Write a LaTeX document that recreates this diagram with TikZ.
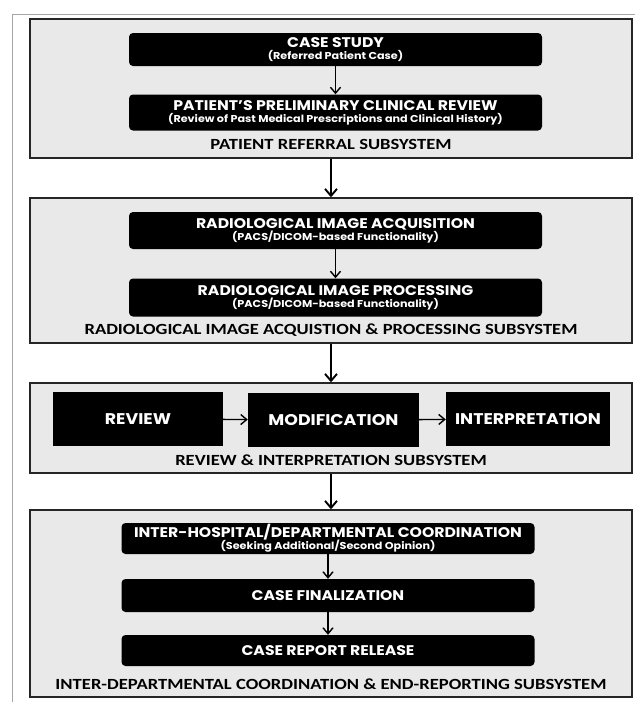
\documentclass[tikz,border=0pt]{standalone}
\usepackage{fontspec}
\setmainfont{Poppins}[FakeStretch=1.12]
\newfontfamily\capfont{Carlito}[FakeStretch=1.2]
\usetikzlibrary{arrows.meta,positioning}

\tikzset{
  subsys/.style={draw=black!85,line width=1.4pt,fill=gray!17,minimum width=602pt,inner sep=0pt},
  stage/.style={fill=black,text=white,rounded corners=4pt,align=center,inner sep=1pt,
    font=\bfseries\fontsize{14}{15}\selectfont},
  bigstage/.style={stage,rounded corners=0pt,minimum height=54pt,font=\bfseries\fontsize{15.5}{16}\selectfont},
  sublabel/.style={font=\capfont\bfseries\fontsize{15.5}{16}\selectfont},
  flow/.style={-{Straight Barb[length=6pt,width=10pt]},line width=1.4pt},
  bigflow/.style={-{Straight Barb[length=7pt,width=12pt]},line width=1.9pt},
}
\newcommand{\stagenote}[1]{\\[-3pt]{\fontsize{10}{10}\selectfont #1}}

\begin{document}
\begin{tikzpicture}[x=1pt,y=-1pt]
	\useasboundingbox (0,0) rectangle (635,702);
	\draw[gray!70,line width=0.6pt] (635,14) -- (12,14) -- (12,702);

	% subsystem frames
	\node[subsys,minimum height=139pt] (sub1) at (331,88.5) {};
	\node[subsys,minimum height=145pt] (sub2) at (331,270.5) {};
	\node[subsys,minimum height=90pt] (sub3) at (331,428) {};
	\node[subsys,minimum height=187pt] (sub4) at (331,603.5) {};

	% patient referral
	\node[stage,minimum width=413pt,minimum height=33pt] (case) at (335.5,49.5) {CASE STUDY\stagenote{(Referred Patient Case)}};
	\node[stage,minimum width=413pt,minimum height=36pt] (prelim) at (335.5,112.5) {PATIENT'S PRELIMINARY CLINICAL REVIEW\stagenote{(Review of Past Medical Prescriptions and Clinical History)}};
	\node[sublabel] (lab1) at (331,144) {PATIENT REFERRAL SUBSYSTEM};
	\draw[flow] (case) -- (prelim);

	% image acquisition and processing
	\node[stage,minimum width=413pt,minimum height=37pt] (acq) at (335.5,230.5) {RADIOLOGICAL IMAGE ACQUISITION\stagenote{(PACS/DICOM-based Functionality)}};
	\node[stage,minimum width=413pt,minimum height=38pt] (proc) at (335.5,297.5) {RADIOLOGICAL IMAGE PROCESSING\stagenote{(PACS/DICOM-based Functionality)}};
	\node[sublabel] (lab2) at (331,330) {RADIOLOGICAL IMAGE ACQUISTION \& PROCESSING SUBSYSTEM};
	\draw[flow] (acq) -- (proc);

	% review and interpretation
	\node[bigstage,minimum width=170pt] (review) at (138,419) {REVIEW};
	\node[bigstage,minimum width=171pt] (modif) at (333.5,420) {MODIFICATION};
	\node[bigstage,minimum width=164pt] (interp) at (528,419) {INTERPRETATION};
	\node[sublabel] (lab3) at (331,460) {REVIEW \& INTERPRETATION SUBSYSTEM};
	\draw[flow] (review) -- (modif);
	\draw[flow] (modif) -- (interp);

	% coordination and end-reporting
	\node[stage,minimum width=413pt,minimum height=31pt] (coord) at (328,538.5) {INTER-HOSPITAL/DEPARTMENTAL COORDINATION\stagenote{(Seeking Additional/Second Opinion)}};
	\node[stage,minimum width=413pt,minimum height=33pt] (final) at (328,595.5) {CASE FINALIZATION};
	\node[stage,minimum width=413pt,minimum height=31pt] (release) at (328,650.5) {CASE REPORT RELEASE};
	\node[sublabel] (lab4) at (331,684) {INTER-DEPARTMENTAL COORDINATION \& END-REPORTING SUBSYSTEM};
	\draw[flow] (coord) -- (final);
	\draw[flow] (final) -- (release);

	\draw[bigflow] (sub1.south) -- (sub2.north);
	\draw[bigflow] (sub2.south) -- (sub3.north);
	\draw[bigflow] (sub3.south) -- (sub4.north);
\end{tikzpicture}
\end{document}
